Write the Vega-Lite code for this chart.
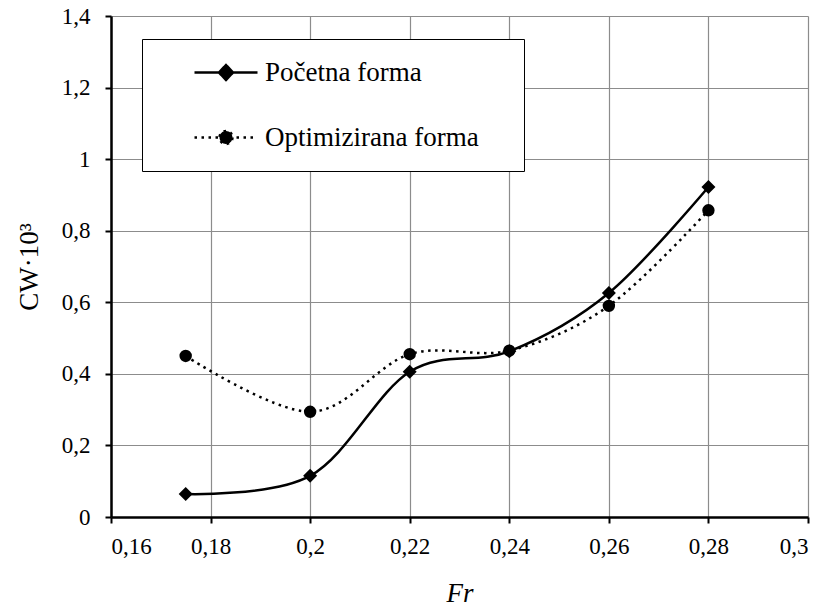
{
  "$schema": "https://vega.github.io/schema/vega-lite/v6.json",
  "width": 697,
  "height": 501,
  "autosize": "none",
  "padding": {"left": 111, "top": 16, "right": 16, "bottom": 90},
  "background": "white",
  "data": {
    "values": [
      {"series": "Početna forma", "fr": 0.175, "cw": 0.064},
      {"series": "Početna forma", "fr": 0.2, "cw": 0.115},
      {"series": "Početna forma", "fr": 0.22, "cw": 0.406},
      {"series": "Početna forma", "fr": 0.24, "cw": 0.463},
      {"series": "Početna forma", "fr": 0.26, "cw": 0.626},
      {"series": "Početna forma", "fr": 0.28, "cw": 0.922},
      {"series": "Optimizirana forma", "fr": 0.175, "cw": 0.45},
      {"series": "Optimizirana forma", "fr": 0.2, "cw": 0.294},
      {"series": "Optimizirana forma", "fr": 0.22, "cw": 0.455},
      {"series": "Optimizirana forma", "fr": 0.24, "cw": 0.465},
      {"series": "Optimizirana forma", "fr": 0.26, "cw": 0.59},
      {"series": "Optimizirana forma", "fr": 0.28, "cw": 0.857}
    ]
  },
  "encoding": {
    "x": {
      "field": "fr", "type": "quantitative",
      "scale": {"domain": [0.16, 0.3], "nice": false, "zero": false},
      "axis": {
        "values": [0.16, 0.18, 0.2, 0.22, 0.24, 0.26, 0.28, 0.3],
        "labelExpr": "replace(format(datum.value, '.2~f'), '.', ',')",
        "title": "Fr", "titleFontStyle": "italic",
        "labelPadding": 12, "titlePadding": 22
      }
    },
    "y": {
      "field": "cw", "type": "quantitative",
      "scale": {"domain": [0, 1.4], "nice": false},
      "axis": {
        "values": [0, 0.2, 0.4, 0.6, 0.8, 1, 1.2, 1.4],
        "labelExpr": "replace(format(datum.value, '.1~f'), '.', ',')",
        "title": "CW·10³",
        "labelPadding": 15, "titlePadding": 18
      }
    }
  },
  "layer": [
    {
      "transform": [{"filter": "datum.series == 'Optimizirana forma'"}],
      "mark": {"type": "line", "interpolate": "cardinal", "color": "black", "strokeWidth": 2.5, "strokeDash": [2.5, 4.5]}
    },
    {
      "transform": [{"filter": "datum.series == 'Početna forma'"}],
      "mark": {"type": "line", "interpolate": "cardinal", "color": "black", "strokeWidth": 2.5}
    },
    {
      "transform": [{"filter": "datum.series == 'Optimizirana forma'"}],
      "mark": {"type": "point", "shape": "circle", "filled": true, "color": "black", "opacity": 1, "size": 154}
    },
    {
      "transform": [{"filter": "datum.series == 'Početna forma'"}],
      "mark": {"type": "point", "shape": "diamond", "filled": true, "color": "black", "opacity": 1, "size": 196}
    },
    {
      "transform": [{"filter": "datum.fr > 1"}],
      "mark": {"type": "point", "filled": true, "fill": "black", "stroke": "black", "strokeWidth": 2.5, "opacity": 1, "size": 400},
      "encoding": {
        "shape": {
          "field": "series", "type": "nominal",
          "scale": {
            "domain": ["Početna forma", "Optimizirana forma"],
            "range": [
              "M1.9,0H8.2M5.05,-0.75L5.75,0L5.05,0.75L4.35,0Z",
              "M1.9,0H8.2M5.7,0A0.65,0.65,0,1,1,4.4,0A0.65,0.65,0,1,1,5.7,0Z"
            ]
          },
          "legend": {
            "title": "M", "titleOrient": "right", "titleFontSize": 22, "titlePadding": 4, "titleColor": "white",
            "orient": "none", "legendX": 31, "legendY": 23,
            "padding": 20, "rowPadding": 37, "labelOffset": 76, "symbolSize": 400, "symbolStrokeWidth": 2.5,
            "fillColor": "white", "strokeColor": "black", "cornerRadius": 0,
            "labelFont": "'Liberation Serif', 'DejaVu Serif', serif", "labelFontSize": 27, "labelColor": "black", "labelLimit": 400
          }
        },
        "strokeDash": {
          "field": "series", "type": "nominal",
          "scale": {
            "domain": ["Početna forma", "Optimizirana forma"],
            "range": [[1, 0], [2.5, 4.5]]
          },
          "legend": {
            "title": "M", "titleOrient": "right", "titleFontSize": 22, "titlePadding": 4, "titleColor": "white",
            "orient": "none", "legendX": 31, "legendY": 23,
            "padding": 20, "rowPadding": 37, "labelOffset": 76, "symbolSize": 400, "symbolStrokeWidth": 2.5,
            "fillColor": "white", "strokeColor": "black", "cornerRadius": 0,
            "labelFont": "'Liberation Serif', 'DejaVu Serif', serif", "labelFontSize": 27, "labelColor": "black", "labelLimit": 400
          }
        }
      }
    }
  ],
  "config": {
    "font": "'Liberation Serif', 'DejaVu Serif', serif",
    "view": {"stroke": null},
    "axis": {
      "domainColor": "black", "domainWidth": 2.5,
      "tickColor": "black", "tickWidth": 2, "tickSize": 6,
      "gridColor": "#8c8c8c", "gridWidth": 1.2,
      "labelFont": "'Liberation Serif', 'DejaVu Serif', serif", "labelFontSize": 23, "labelColor": "black",
      "titleFont": "'Liberation Serif', 'DejaVu Serif', serif", "titleFontSize": 27, "titleColor": "black", "titleFontWeight": "normal"
    }
  }
}
